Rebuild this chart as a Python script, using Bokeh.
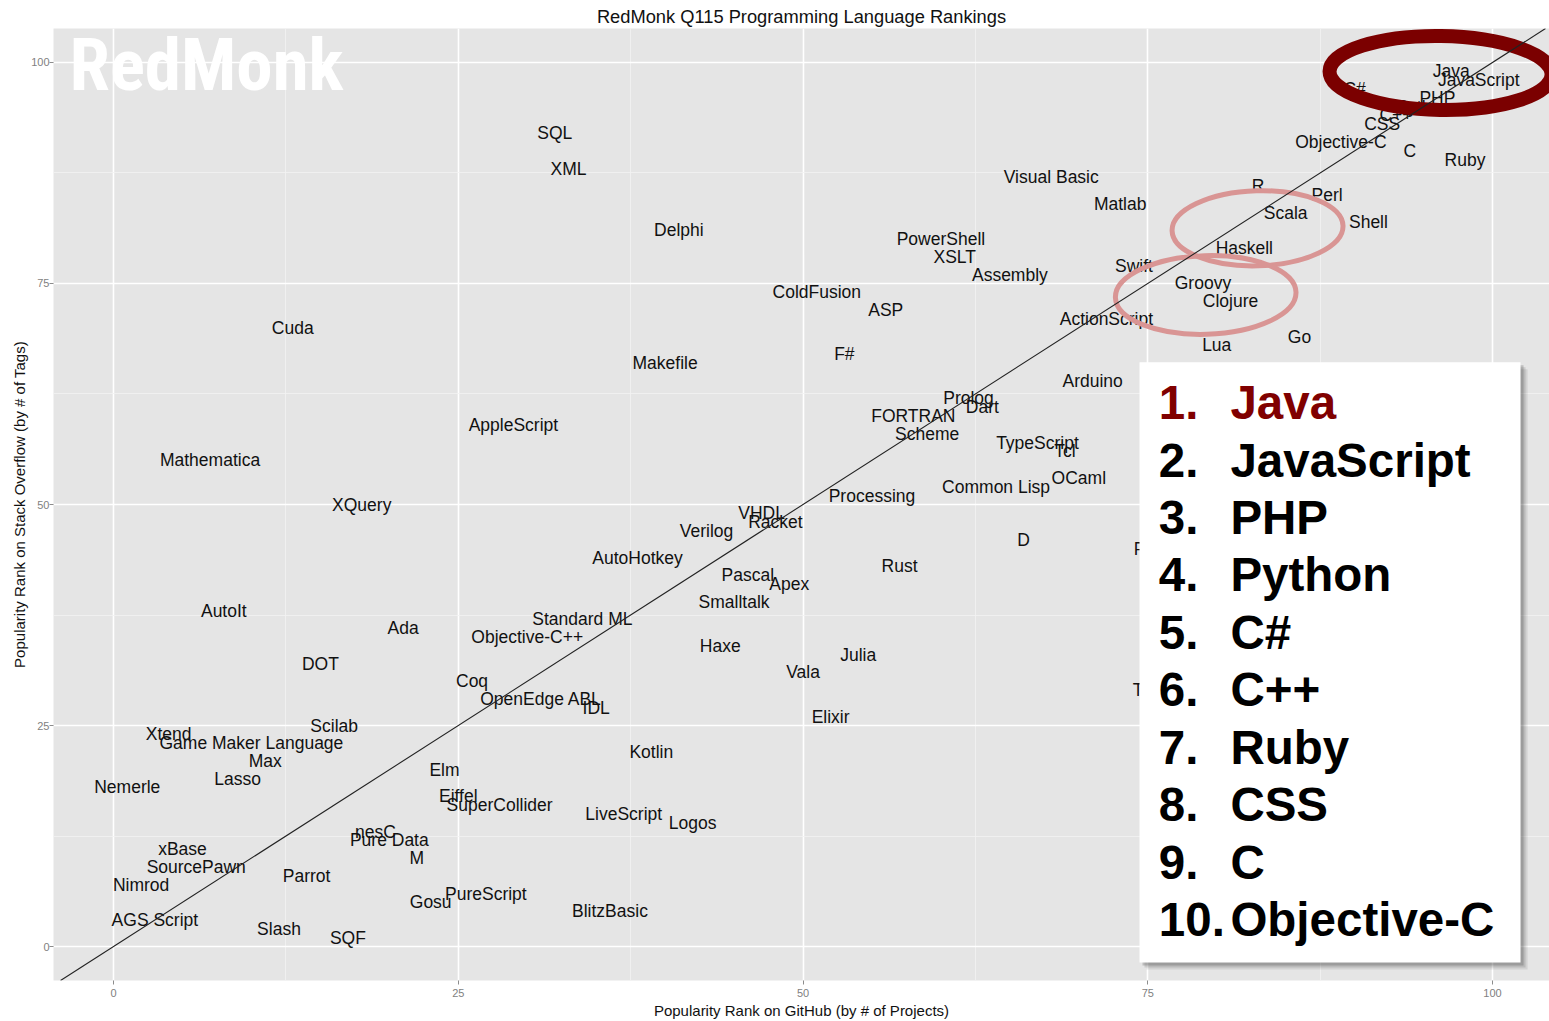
import math
from bokeh.plotting import figure
from bokeh.models import Range1d, FixedTicker, Label, BoxAnnotation, Slope
from bokeh.core.properties import value
from bokeh.embed import file_html
from bokeh.resources import INLINE

# ---------------- data ----------------
languages = [
    "Java", "JavaScript", "PHP", "Python", "C#", "C++", "Ruby", "CSS", "C", "Objective-C",
    "Perl", "Shell", "R", "Scala", "Haskell", "Matlab", "Visual Basic", "Go", "Clojure", "Groovy",
    "Swift", "Lua", "ActionScript", "Assembly", "XSLT", "PowerShell", "ColdFusion", "ASP", "F#", "Arduino",
    "Prolog", "Dart", "FORTRAN", "Scheme", "TypeScript", "Tcl", "OCaml", "Common Lisp", "Processing", "D",
    "Rust", "Julia", "Vala", "Elixir", "VHDL", "Racket", "Verilog", "AutoHotkey", "Pascal", "Apex",
    "Smalltalk", "Haxe", "Standard ML", "Objective-C++", "Coq", "OpenEdge ABL", "IDL", "Kotlin", "LiveScript", "Logos",
    "BlitzBasic", "SQL", "XML", "Delphi", "Makefile", "AppleScript", "Cuda", "Mathematica", "XQuery", "AutoIt",
    "Ada", "DOT", "Scilab", "Xtend", "Game Maker Language", "Max", "Lasso", "Nemerle", "Elm", "Eiffel",
    "SuperCollider", "nesC", "Pure Data", "M", "xBase", "SourcePawn", "Parrot", "Nimrod", "Gosu", "PureScript",
    "AGS Script", "Slash", "SQF", "Puppet", "TeX",
]
github_rank = [
    97, 99, 96, 95, 90, 93, 98, 92, 94, 89,
    88, 91, 83, 85, 82, 73, 68, 86, 81, 79,
    74, 80, 72, 65, 61, 60, 51, 56, 53, 71,
    62, 63, 58, 59, 67, 69, 70, 64, 55, 66,
    57, 54, 50, 52, 47, 48, 43, 38, 46, 49,
    45, 44, 34, 30, 26, 31, 35, 39, 37, 42,
    36, 32, 33, 41, 40, 29, 13, 7, 18, 8,
    21, 15, 16, 4, 10, 11, 9, 1, 24, 25,
    28, 19, 20, 22, 5, 6, 14, 2, 23, 27,
    3, 12, 17, 76, 75,
]
stackoverflow_rank = [
    99, 98, 96, 95, 97, 94, 89, 93, 90, 91,
    85, 82, 86, 83, 79, 84, 87, 69, 73, 75,
    77, 68, 71, 76, 78, 80, 74, 72, 67, 64,
    62, 61, 60, 58, 57, 56, 53, 52, 51, 46,
    43, 33, 31, 26, 49, 48, 47, 44, 42, 41,
    39, 34, 37, 35, 30, 28, 27, 22, 15, 14,
    4, 92, 88, 81, 66, 59, 70, 55, 50, 38,
    36, 32, 25, 24, 23, 21, 19, 18, 20, 17,
    16, 13, 12, 10, 11, 9, 8, 7, 5, 6,
    3, 2, 1, 45, 29,
]

top10_numbers = ["1.", "2.", "3.", "4.", "5.", "6.", "7.", "8.", "9.", "10."]
top10_names = ["Java", "JavaScript", "PHP", "Python", "C#", "C++", "Ruby", "CSS", "C", "Objective-C"]

axis_ticks = [0, 25, 50, 75, 100]
axis_minor_ticks = [12.5, 37.5, 62.5, 87.5]

# highlight ellipses (centre x, centre y, width, height) in data units
ellipse_x = [96.23, 82.96, 79.2]
ellipse_y = [98.81, 81.24, 73.7]
ellipse_w = [16.1, 12.4, 13.1]
ellipse_h = [8.36, 8.5, 8.9]

# ---------------- figure ----------------
PX_X = 13.79   # pixels per unit along x in the reference
PX_Y = 8.85    # pixels per unit along y in the reference

p = figure(
    width=1549, height=1021,
    output_backend="svg", toolbar_location=None,
    x_range=Range1d(-4.351, 104.13), y_range=Range1d(-3.84, 103.84),
    min_border_left=53, min_border_right=0, min_border_top=28, min_border_bottom=40,
    background_fill_color="#E5E5E5", border_fill_color="white",
    title="RedMonk Q115 Programming Language Rankings",
)
p.outline_line_color = None
p.title.align = "center"
p.title.text_font = "Liberation Sans"
p.title.text_font_style = "normal"
p.title.text_font_size = "18.3px"
p.title.text_color = "#111111"
p.title.standoff = 3
p.title.offset = 0

ticker = FixedTicker(ticks=axis_ticks, minor_ticks=axis_minor_ticks)
for ax in (p.xaxis[0], p.yaxis[0]):
    ax.ticker = ticker
    ax.axis_line_color = None
    ax.major_tick_out = 4
    ax.major_tick_in = 0
    ax.minor_tick_out = 0
    ax.minor_tick_in = 0
    ax.major_tick_line_color = "#8c8c8c"
    ax.major_label_text_color = "#7f7f7f"
    ax.major_label_text_font = "Liberation Sans"
    ax.major_label_text_font_size = "11px"
    ax.axis_label_text_font = "Liberation Sans"
    ax.axis_label_text_font_style = "normal"
    ax.axis_label_text_font_size = "15px"
    ax.axis_label_text_color = "#111111"

p.xaxis.major_label_standoff = 4
p.xaxis.axis_label_standoff = 2
p.yaxis.major_label_standoff = 0
p.yaxis.axis_label_standoff = 0

p.xaxis.axis_label = "Popularity Rank on GitHub (by # of Projects)"
p.yaxis.axis_label = "Popularity Rank on Stack Overflow (by # of Tags)"

for g in (p.xgrid[0], p.ygrid[0]):
    g.grid_line_color = "white"
    g.grid_line_width = 1.6
    g.minor_grid_line_color = "#F2F2F2"
    g.minor_grid_line_width = 0.8

# watermark
p.add_layout(Label(
    x=-3.19, y=99.66, text="RedMonk", text_color="white",
    text_font="'Roboto Condensed', 'DejaVu Sans Condensed', 'Liberation Sans Narrow', 'Arial Narrow', Roboto, sans-serif",
    text_font_style="bold",
    text_font_size="73px", text_align="left", text_baseline="middle",
    level="underlay",
))

# language labels
p.text(
    x=github_rank, y=stackoverflow_rank, text=languages,
    text_align="center", text_baseline="middle",
    text_font=value("Liberation Sans"), text_font_size="17.5px", text_color="#111111",
)

# diagonal reference line y = x
p.add_layout(Slope(gradient=1, y_intercept=0, line_color="#222222", line_width=1.1))

# highlight ellipses
p.ellipse(x=ellipse_x[:1], y=ellipse_y[:1], width=ellipse_w[:1], height=ellipse_h[:1], angle=-0.015,
          fill_color=None, line_color="#7B0000", line_width=14)
p.ellipse(x=ellipse_x[1:], y=ellipse_y[1:], width=ellipse_w[1:], height=ellipse_h[1:], angle=0.03,
          fill_color=None, line_color="#D99594", line_width=5)

# top-10 box (with soft shadow)
box_l, box_r, box_t, box_b = 74.40, 102.03, 66.10, -1.81
for off, a in ((7, 0.10), (5, 0.15), (3, 0.22)):
    p.add_layout(BoxAnnotation(
        left=box_l + off / PX_X, right=box_r + off / PX_X,
        top=box_t - off / PX_Y, bottom=box_b - off / PX_Y,
        fill_color="#333333", fill_alpha=a, line_color=None,
    ))
p.add_layout(BoxAnnotation(left=box_l, right=box_r, top=box_t, bottom=box_b,
                           fill_color="white", fill_alpha=1.0, line_color=None))

row_y0 = (947 - 402.5) / PX_Y
row_step = 57.5 / PX_Y
row_colors = ["#800000"] + ["#000000"] * 9
for i, (num, name) in enumerate(zip(top10_numbers, top10_names)):
    yy = row_y0 - i * row_step
    for xx, txt in ((75.80, num), (80.99, name)):
        p.add_layout(Label(
            x=xx, y=yy, text=txt, text_color=row_colors[i],
            text_font="Liberation Sans", text_font_style="bold",
            text_font_size="47.5px", text_align="left", text_baseline="middle",
        ))

open("out.html", "w").write(file_html(p, INLINE))
